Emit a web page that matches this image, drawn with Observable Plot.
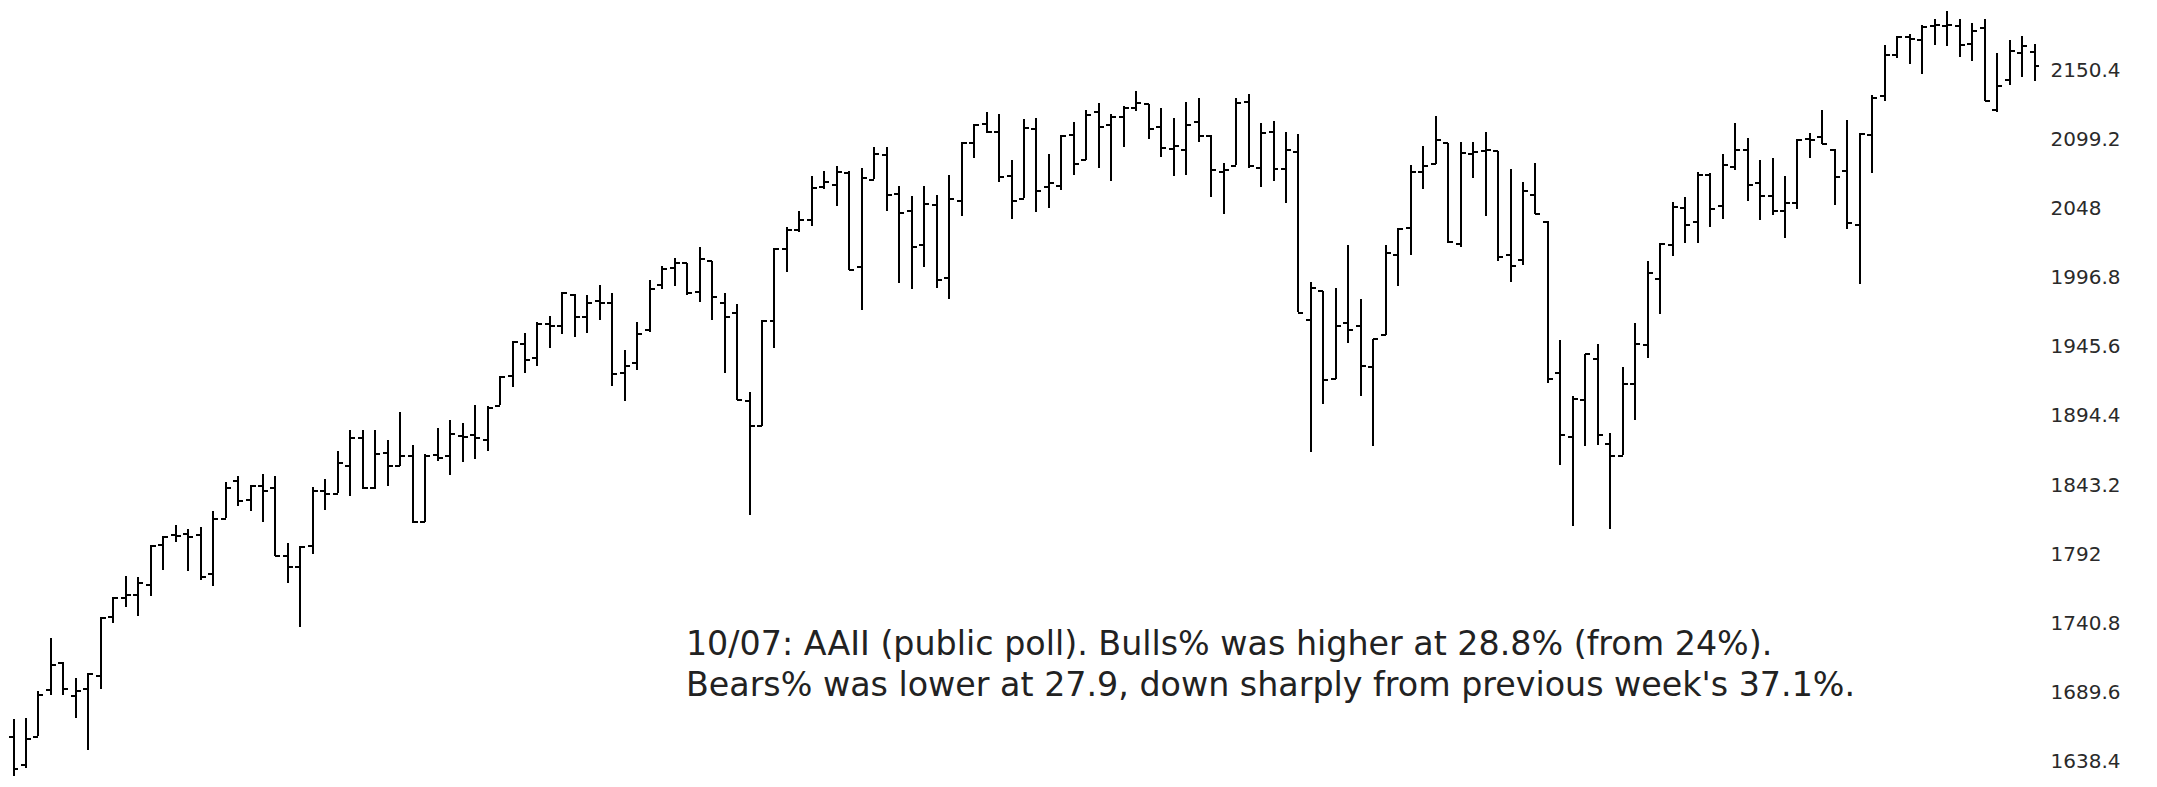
<!DOCTYPE html>
<html><head><meta charset="utf-8">
<script src="https://cdn.jsdelivr.net/npm/d3@7"></script>
<script src="https://cdn.jsdelivr.net/npm/@observablehq/plot@0.6"></script>
<style>
html,body{margin:0;padding:0;background:#fff;}
#chart{position:relative;width:2157px;height:787px;overflow:hidden;}
#chart svg{display:block;}
</style>
</head><body><div id="chart"></div>
<script>
// Weekly OHLC bars (S&P 500, week ending 2013-08-30 ... 2016-10-07)
const openP = [
1656.6,1635.9,1656.9,1691.7,1711.4,1687.3,1691.9,1702.0,1745.2,1759.4,
1762.0,1769.0,1798.8,1806.3,1806.6,1806.2,1777.0,1818.3,1845.9,1832.3,
1842.3,1841.1,1791.0,1782.7,1798.0,1838.8,1836.8,1857.7,1878.3,1841.1,
1867.0,1857.6,1865.1,1815.7,1865.8,1865.0,1879.5,1880.0,1876.7,1902.0,
1923.9,1948.0,1937.2,1962.9,1960.8,1984.2,1968.0,1979.8,1978.3,1926.0,
1933.4,1958.4,1991.7,2004.1,2007.5,1986.0,2009.1,1978.2,1971.0,1905.7,
1887.3,1965.0,2018.2,2032.0,2039.7,2064.0,2065.8,2074.8,2005.0,2069.3,
2087.6,2058.9,2046.1,2020.8,2050.4,1996.7,2053.5,2096.5,2110.9,2105.2,
2072.3,2055.4,2107.0,2064.1,2064.9,2102.9,2084.0,2119.3,2110.2,2115.6,
2122.3,2125.3,2108.6,2092.3,2091.3,2112.5,2102.0,2075.0,2080.0,2126.8,
2078.2,2104.5,2077.6,2089.7,1965.2,1986.7,1921.8,1963.1,1960.8,1930.9,
1954.3,2013.7,2033.5,2075.1,2080.8,2096.6,2022.1,2088.8,2090.4,2090.4,
2013.4,2010.3,2057.8,2038.2,1926.1,1878.9,1906.3,1936.9,1873.3,1864.8,
1918.0,1947.3,1996.1,2020.8,2048.6,2037.9,2073.2,2050.0,2078.8,2091.7,
2067.2,2057.6,2046.5,2052.2,2100.0,2101.0,2091.8,2075.6,2036.1,2102.9,
2131.7,2162.0,2175.0,2173.1,2183.7,2183.7,2183.7,2170.2,2181.6,2120.9,
2143.0,2163.3,2164.3];
const highP = [
1669.5,1670.4,1690.0,1729.9,1711.4,1700.0,1703.4,1745.3,1759.8,1775.2,
1774.5,1798.2,1804.8,1813.6,1810.0,1811.5,1823.8,1844.9,1849.4,1843.2,
1850.8,1849.3,1800.0,1798.0,1841.7,1847.5,1867.9,1883.6,1883.6,1884.0,
1875.9,1897.3,1872.5,1865.8,1884.9,1891.3,1889.1,1902.2,1901.3,1924.0,
1949.4,1955.6,1963.9,1968.2,1985.6,1984.2,1983.9,1991.4,1984.9,1942.9,
1964.0,1994.8,2005.0,2011.2,2007.5,2019.3,2009.1,1985.2,1977.2,1912.1,
1965.3,2018.2,2034.3,2046.2,2071.5,2075.8,2079.5,2075.8,2077.9,2093.6,
2093.0,2064.4,2056.9,2064.6,2057.6,2072.4,2097.0,2110.6,2119.6,2117.5,
2083.5,2113.9,2114.9,2088.2,2102.6,2111.9,2120.5,2125.9,2117.7,2123.9,
2134.7,2125.3,2121.9,2115.0,2126.6,2129.9,2102.0,2081.3,2129.9,2132.8,
2111.4,2112.7,2104.2,2102.9,1993.5,1986.7,1988.6,2020.9,1980.8,1951.4,
2020.9,2033.5,2079.7,2094.3,2116.5,2096.6,2097.0,2097.1,2104.3,2090.4,
2076.7,2067.6,2081.6,2038.2,1950.3,1908.9,1940.2,1947.2,1881.6,1930.7,
1962.9,2009.1,2022.4,2052.4,2056.6,2075.1,2074.0,2087.8,2111.1,2099.9,
2083.4,2084.9,2071.9,2099.1,2103.5,2120.6,2091.8,2113.3,2104.0,2131.7,
2169.1,2175.6,2177.1,2183.5,2188.5,2193.8,2187.9,2184.9,2187.9,2163.3,
2172.7,2175.3,2169.6];
const lowP = [
1627.5,1633.4,1656.9,1687.3,1687.1,1670.4,1646.5,1692.0,1740.5,1752.7,
1746.2,1760.6,1780.0,1800.5,1779.1,1772.3,1767.8,1818.3,1827.7,1823.7,
1815.8,1790.3,1770.5,1737.9,1791.8,1824.6,1836.8,1834.4,1839.6,1839.6,
1842.1,1856.7,1814.4,1815.7,1860.5,1850.6,1859.8,1862.4,1868.3,1902.0,
1915.4,1925.8,1931.0,1944.7,1955.1,1952.9,1955.6,1965.1,1916.0,1904.8,
1928.3,1956.5,1988.0,1990.1,1983.8,1978.5,1965.0,1926.0,1906.1,1820.7,
1886.3,1944.6,2001.0,2030.4,2034.5,2062.3,2049.6,2002.3,1972.6,2069.3,
2046.0,1992.4,1988.1,2004.5,1989.2,1980.9,2041.9,2085.4,2103.8,2067.3,
2039.7,2055.4,2045.5,2048.4,2061.2,2072.9,2084.0,2077.5,2067.9,2093.0,
2120.0,2099.2,2085.7,2072.1,2072.7,2097.4,2056.3,2044.0,2080.0,2077.5,
2063.5,2067.9,2052.1,1970.9,1867.0,1903.1,1921.8,1948.0,1908.8,1871.9,
1954.3,1990.7,2013.6,2062.0,2080.8,2022.0,2019.4,2070.3,2042.4,2008.8,
1993.3,2005.9,2043.6,1918.5,1857.8,1812.3,1871.5,1872.7,1810.1,1864.8,
1891.0,1937.1,1969.3,2012.3,2022.5,2022.2,2033.8,2039.7,2076.5,2053.0,
2039.5,2043.1,2025.9,2047.3,2085.1,2095.4,2050.4,2032.6,1991.7,2074.0,
2127.8,2159.0,2155.0,2147.6,2168.8,2168.5,2160.4,2157.1,2127.8,2119.1,
2139.2,2145.0,2142.6];
const closeP = [
1633.0,1655.2,1688.0,1709.9,1691.8,1690.5,1703.2,1744.5,1759.8,1761.6,
1770.6,1798.2,1804.8,1805.8,1805.1,1775.3,1818.3,1841.4,1831.4,1842.4,
1838.7,1790.3,1782.6,1797.0,1838.6,1836.3,1859.5,1878.0,1841.1,1866.5,
1857.6,1865.1,1815.7,1864.9,1863.4,1881.1,1878.5,1877.9,1900.5,1923.6,
1949.4,1936.2,1962.9,1961.0,1985.4,1967.6,1978.2,1978.3,1925.2,1931.6,
1955.1,1988.4,2003.4,2007.7,1985.5,2010.4,1982.9,1967.9,1906.1,1886.8,
1964.6,2018.1,2031.9,2039.8,2063.5,2067.6,2075.4,2002.3,2070.7,2088.8,
2058.2,2044.8,2019.4,2051.8,1995.0,2055.5,2097.0,2110.3,2104.5,2071.3,
2053.4,2108.1,2061.0,2067.0,2102.1,2081.2,2117.7,2108.3,2116.1,2122.7,
2126.1,2107.4,2092.8,2094.1,2110.0,2101.5,2076.8,2076.6,2126.6,2079.7,
2103.8,2077.6,2091.5,1970.9,1988.9,1921.2,1961.1,1958.0,1931.3,1951.4,
2014.9,2033.1,2075.2,2079.4,2099.2,2023.0,2089.2,2090.1,2091.7,2012.4,
2005.6,2061.0,2043.9,1922.0,1880.3,1906.9,1940.2,1880.1,1864.8,1917.8,
1948.1,2000.0,2022.2,2049.6,2035.9,2072.8,2047.6,2080.7,2091.6,2065.3,
2057.1,2046.6,2052.3,2099.1,2099.1,2096.1,2071.2,2037.4,2103.0,2129.9,
2161.7,2175.0,2173.6,2182.9,2184.1,2183.9,2169.0,2180.0,2127.8,2139.2,
2164.7,2168.3,2153.7];

const tickValues = [1638.4, 1689.6, 1740.8, 1792, 1843.2, 1894.4, 1945.6, 1996.8, 2048, 2099.2, 2150.4];
const tickLabels = ["1638.4","1689.6","1740.8","1792","1843.2","1894.4","1945.6","1996.8","2048","2099.2","2150.4"];
const noteLines = [
  "10/07: AAII (public poll). Bulls% was higher at 28.8% (from 24%).",
  "Bears% was lower at 27.9, down sharply from previous week's 37.1%."
];
// annotation anchor (bar index, price level)
const noteAt = {i: 53.9, price: 1712};

const bars = openP.map((o, i) => ({i, open: o, high: highP[i], low: lowP[i], close: closeP[i]}));
const tickLen = 0.4; // open/close tick length in bar-index units
const ink = "#000";

const chart = Plot.plot({
  width: 2157,
  height: 787,
  marginLeft: 13,
  marginRight: 123,
  marginTop: 70,
  marginBottom: 26,
  style: {background: "#fff", fontFamily: "DejaVu Sans"},
  x: {domain: [0, bars.length - 1], axis: null},
  y: {domain: [tickValues[0], tickValues[tickValues.length - 1]]},
  marks: [
    Plot.ruleX(bars, {x: "i", y1: "low", y2: "high", stroke: ink, strokeWidth: 2, shapeRendering: "crispEdges"}),
    Plot.link(bars, {x1: d => d.i - tickLen, x2: "i", y1: "open", y2: "open", stroke: ink, strokeWidth: 2, shapeRendering: "crispEdges"}),
    Plot.link(bars, {x1: "i", x2: d => d.i + tickLen, y1: "close", y2: "close", stroke: ink, strokeWidth: 2, shapeRendering: "crispEdges"}),
    Plot.axisY({
      anchor: "right",
      ticks: tickValues,
      tickFormat: d => tickLabels[tickValues.indexOf(d)],
      tickSize: 0,
      tickPadding: 16,
      fontSize: 20,
      fill: "#2a2a2a",
      label: null
    }),
    Plot.text([{i: noteAt.i, price: noteAt.price, t: noteLines.join("\n")}], {
      x: "i", y: "price", text: "t",
      textAnchor: "start", lineAnchor: "middle", lineHeight: 1.24,
      fontSize: 33.3, fill: "#222", fontFamily: "DejaVu Sans"
    })
  ]
});
document.getElementById("chart").appendChild(chart);
</script>
</body></html>
